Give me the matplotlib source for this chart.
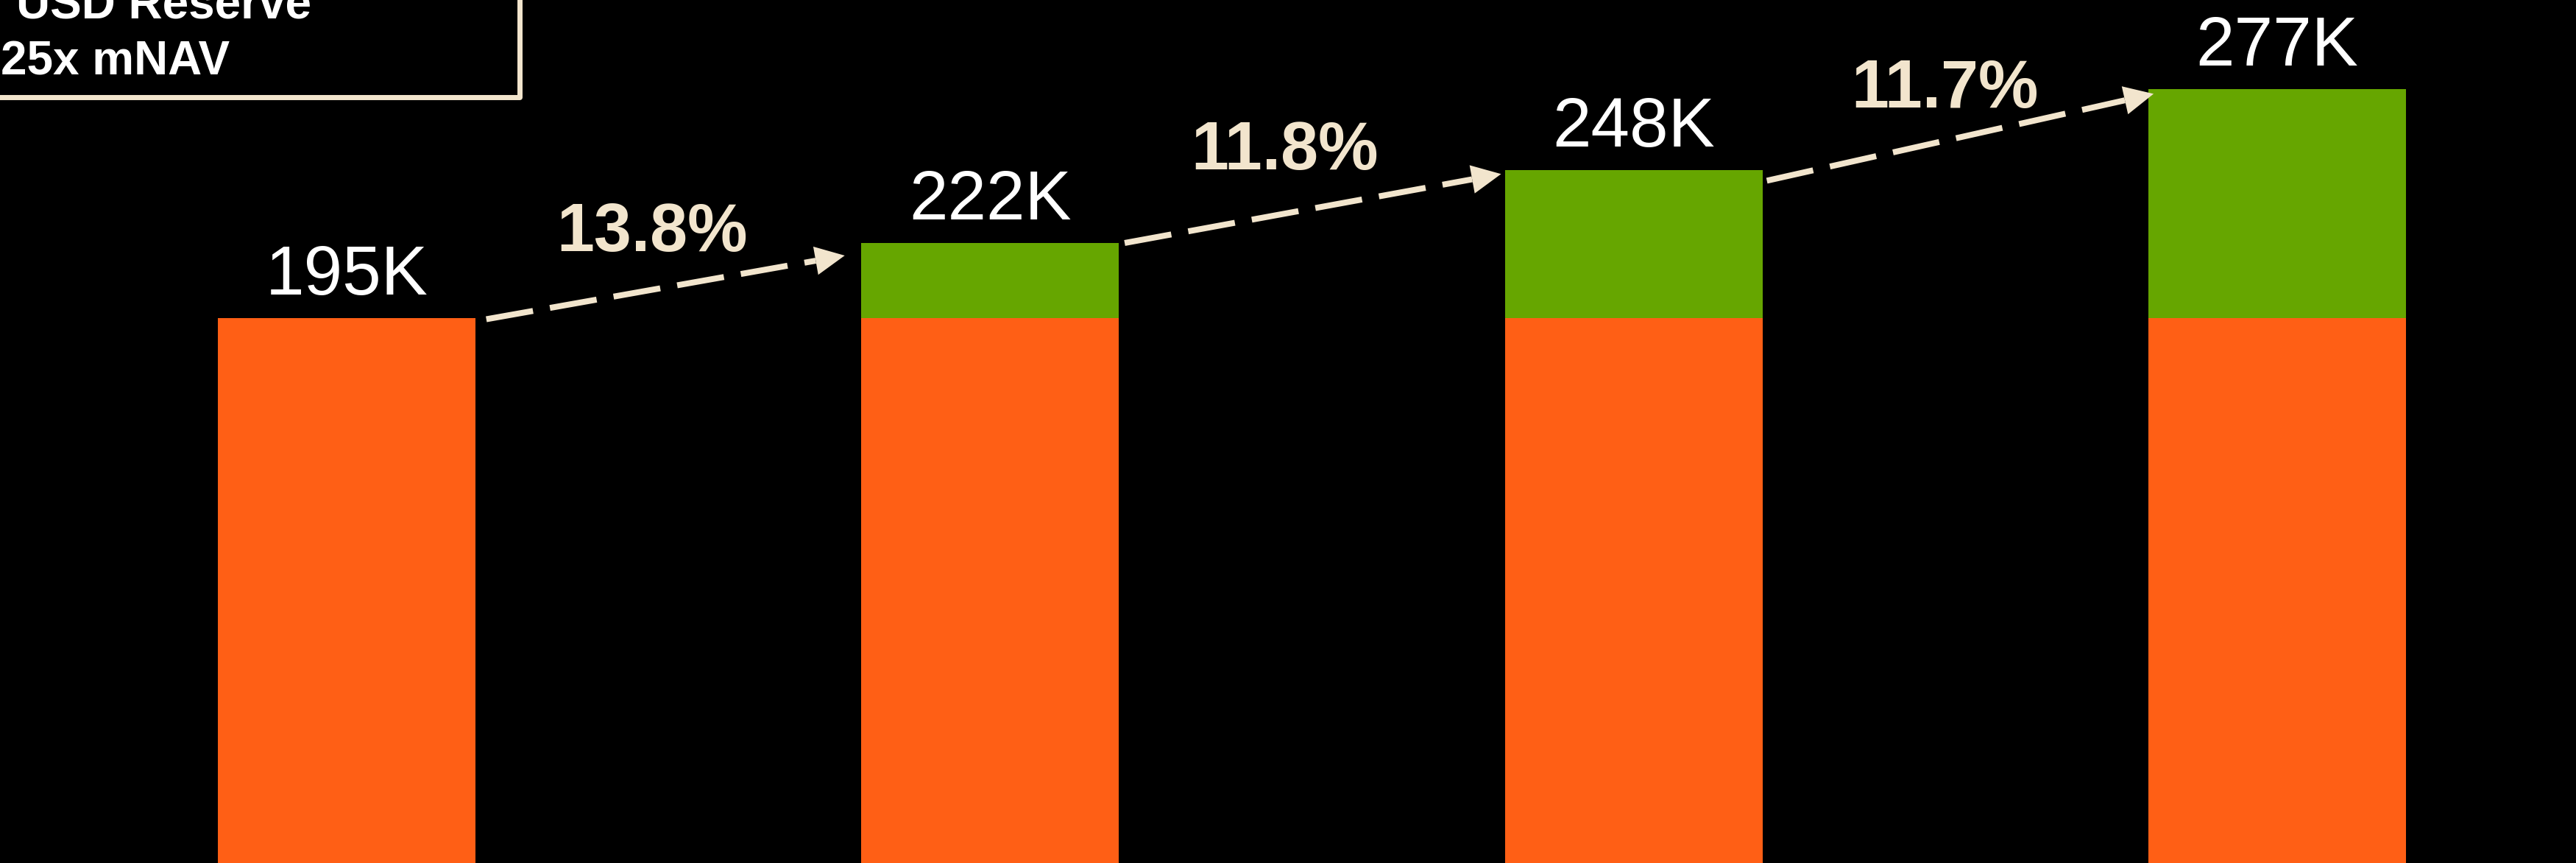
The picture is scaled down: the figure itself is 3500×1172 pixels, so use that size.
import numpy as np
import matplotlib
matplotlib.use("Agg")
import matplotlib.pyplot as plt
from matplotlib.patches import Rectangle

plt.rcParams['font.family'] = ['Liberation Sans', 'DejaVu Sans']

# holdings in thousands
base = [195, 195, 195, 195]
totals = [195, 222, 248, 277]
growth_pct = [13.8, 11.8, 11.7]
legend_lines = ["USD Reserve", "25x mNAV"]

orange = '#FF5F15'
green = '#66A600'
cream = '#F2E5CD'

# arrow end tweaks (data units): tail dx, tail dy, tip dx, tip dy
arrow_adj = [(0.017, -0.3, -0.026, -4.5),
             (0.009, 0.0, -0.006, -1.3),
             (0.007, -3.7, 0.008, -1.6)]
# growth label offsets from arrow midpoint, pixels
pct_offsets = [(-18, 49), (-38, 53), (-21, 40)]

fig = plt.figure(figsize=(35, 11.72), dpi=100, facecolor='black')
ax = fig.add_axes([0, 0, 1, 1])
ax.set_facecolor('black')
ax.set_axis_off()

x = np.arange(len(totals))
w = 0.4
extra = np.array(totals) - np.array(base)

ax.bar(x, base, width=w, color=orange, linewidth=0)
ax.bar(x[extra > 0], extra[extra > 0], bottom=np.array(base)[extra > 0],
       width=w, color=green, linewidth=0)

ax.set_xlim(-0.5387, 3.4644)
ax.set_ylim(0, 309)

for xi, t in zip(x, totals):
    ax.annotate(f"{t}K", xy=(xi, t), xytext=(0, 32), textcoords='offset pixels',
                ha='center', va='baseline', fontsize=68, color='white')

head_len = 40  # px


def dashed_arrow(start, end):
    p0 = ax.transData.transform(start)
    p1 = ax.transData.transform(end)
    d = (p1 - p0) / np.hypot(*(p1 - p0))
    neck = ax.transData.inverted().transform(p1 - d * head_len)
    ax.plot([start[0], neck[0]], [start[1], neck[1]], color=cream, lw=5.8,
            linestyle=(0, (8, 2.9)), dash_capstyle='butt', solid_capstyle='butt')
    ax.annotate('', xy=end, xytext=neck,
                arrowprops=dict(arrowstyle='-|>,head_length=28.8,head_width=14',
                                mutation_scale=1, color=cream, lw=0,
                                shrinkA=0, shrinkB=0))


for i, pct in enumerate(growth_pct):
    sdx, sdy, edx, edy = arrow_adj[i]
    start = (x[i] + w / 2 + sdx, totals[i] + sdy)
    end = (x[i + 1] - w / 2 + edx, totals[i + 1] + edy)
    dashed_arrow(start, end)
    mid = ((start[0] + end[0]) / 2, (start[1] + end[1]) / 2)
    ax.annotate(f"{pct}%", xy=mid, xytext=pct_offsets[i], textcoords='offset pixels',
                ha='center', va='baseline', fontsize=66, fontweight='bold', color=cream)

# legend box in the top-left corner
ax.add_patch(Rectangle((-0.01, 1 - 132 / 1172), 0.01 + 706 / 3500, 0.2,
                       transform=ax.transAxes, facecolor='black', edgecolor=cream,
                       linewidth=5, joinstyle='round', zorder=3))
ax.text(22 / 3500, 1 - 25 / 1172, legend_lines[0], transform=ax.transAxes,
        ha='left', va='baseline', fontsize=46, fontweight='bold', color='white', zorder=4)
ax.text(1 / 3500, 1 - 102 / 1172, legend_lines[1], transform=ax.transAxes,
        ha='left', va='baseline', fontsize=46, fontweight='bold', color='white', zorder=4)

fig.savefig('out.png', dpi=100, facecolor='black')
